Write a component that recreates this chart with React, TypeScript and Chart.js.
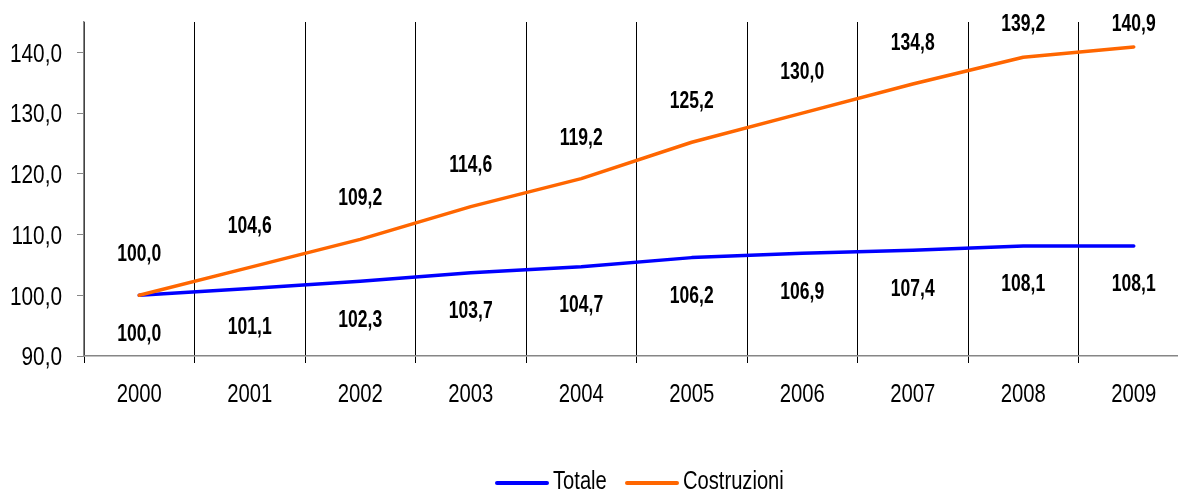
import React, { useEffect, useRef } from "react";
import { Chart, registerables } from "chart.js";

Chart.register(...registerables);

const years = ["2000", "2001", "2002", "2003", "2004", "2005", "2006", "2007", "2008", "2009"];
const totale = [100.0, 101.1, 102.3, 103.7, 104.7, 106.2, 106.9, 107.4, 108.1, 108.1];
const costruzioni = [100.0, 104.6, 109.2, 114.6, 119.2, 125.2, 130.0, 134.8, 139.2, 140.9];
const yTicks = [90, 100, 110, 120, 130, 140];
const seriesNames = ["Totale", "Costruzioni"];
const seriesColors = ["#0000FF", "#FF6600"];

const FONT = '"Liberation Sans", Arial, sans-serif';
const fmt = (v: number) => v.toFixed(1).replace(".", ",");

function drawText(
  ctx: CanvasRenderingContext2D,
  text: string,
  x: number,
  cy: number,
  size: number,
  bold: boolean,
  sx: number,
  align: CanvasTextAlign
) {
  ctx.save();
  ctx.font = `${bold ? "bold " : ""}${size}px ${FONT}`;
  ctx.fillStyle = "#000";
  ctx.textAlign = align;
  ctx.textBaseline = "alphabetic";
  ctx.translate(x, cy + 0.358 * size);
  ctx.scale(sx, 1);
  ctx.fillText(text, 0, 0);
  ctx.restore();
}

const textPlugin = {
  id: "customText",
  afterDraw(chart: any) {
    const ctx = chart.ctx as CanvasRenderingContext2D;
    const xs = chart.scales.x;
    const ys = chart.scales.y;
    // y tick labels
    yTicks.forEach((t) => {
      drawText(ctx, fmt(t), 62, ys.getPixelForValue(t), 26, false, 0.8, "right");
    });
    // x tick labels
    years.forEach((y, i) => {
      drawText(ctx, y, xs.getPixelForValue(i), 393, 26, false, 0.78, "center");
    });
    // data labels
    costruzioni.forEach((v, i) => {
      const px = xs.getPixelForValue(i);
      const py = Math.max(ys.getPixelForValue(v) - 43, 22);
      drawText(ctx, fmt(v), px, py, 24.7, true, 0.71, "center");
    });
    totale.forEach((v, i) => {
      const px = xs.getPixelForValue(i);
      const py = ys.getPixelForValue(v) + 36.5;
      drawText(ctx, fmt(v), px, py, 24.7, true, 0.71, "center");
    });
    // legend
    const legendItems = [
      { x0: 497, x1: 547, tx: 553 },
      { x0: 627, x1: 677, tx: 683 },
    ];
    legendItems.forEach((it, i) => {
      ctx.save();
      ctx.strokeStyle = seriesColors[i];
      ctx.lineWidth = 4;
      ctx.lineCap = "round";
      ctx.beginPath();
      ctx.moveTo(it.x0, 483);
      ctx.lineTo(it.x1, 483);
      ctx.stroke();
      ctx.restore();
      drawText(ctx, seriesNames[i], it.tx, 480, 26, false, 0.775, "left");
    });
  },
};

export default function App() {
  const ref = useRef<HTMLCanvasElement | null>(null);
  useEffect(() => {
    if (!ref.current) return;
    const chart = new Chart(ref.current, {
      type: "line",
      data: {
        labels: years,
        datasets: [
          {
            label: seriesNames[0],
            data: totale,
            borderColor: seriesColors[0],
            backgroundColor: seriesColors[0],
            borderWidth: 3.5,
            pointRadius: 0,
            tension: 0,
            borderCapStyle: "round",
            borderJoinStyle: "round",
            order: 2,
          },
          {
            label: seriesNames[1],
            data: costruzioni,
            borderColor: seriesColors[1],
            backgroundColor: seriesColors[1],
            borderWidth: 3.5,
            pointRadius: 0,
            tension: 0,
            borderCapStyle: "round",
            borderJoinStyle: "round",
            order: 1,
          },
        ],
      },
      options: {
        responsive: false,
        animation: false,
        devicePixelRatio: 1,
        layout: { padding: { top: 22, left: 0, right: 0, bottom: 0 } },
        plugins: { legend: { display: false }, tooltip: { enabled: false } },
        scales: {
          x: {
            offset: true,
            grid: {
              offset: true,
              color: "#000",
              lineWidth: 1,
              drawTicks: true,
              tickLength: 7,
            },
            border: { color: "#868686", width: 1.5 },
            ticks: { display: false },
            afterFit: (s: any) => {
              s.height = 135;
            },
          },
          y: {
            min: 90,
            max: 145,
            grid: {
              drawOnChartArea: false,
              drawTicks: true,
              tickLength: 7,
              color: "#868686",
            },
            border: { color: "#868686", width: 1.5 },
            ticks: {
              display: false,
              stepSize: 10,
            },
            afterBuildTicks: (s: any) => {
              s.ticks = yTicks.map((v) => ({ value: v }));
            },
            afterFit: (s: any) => {
              s.width = 84;
            },
          },
        },
      },
      plugins: [textPlugin],
    } as any);
    return () => chart.destroy();
  }, []);
  return (
    <div
      style={{
        position: "fixed",
        left: 0,
        top: 0,
        width: 1178,
        height: 491,
        overflow: "hidden",
        background: "#fff",
      }}
    >
      <canvas ref={ref} width={1189} height={491} style={{ width: 1189, height: 491, display: "block" }} />
    </div>
  );
}
